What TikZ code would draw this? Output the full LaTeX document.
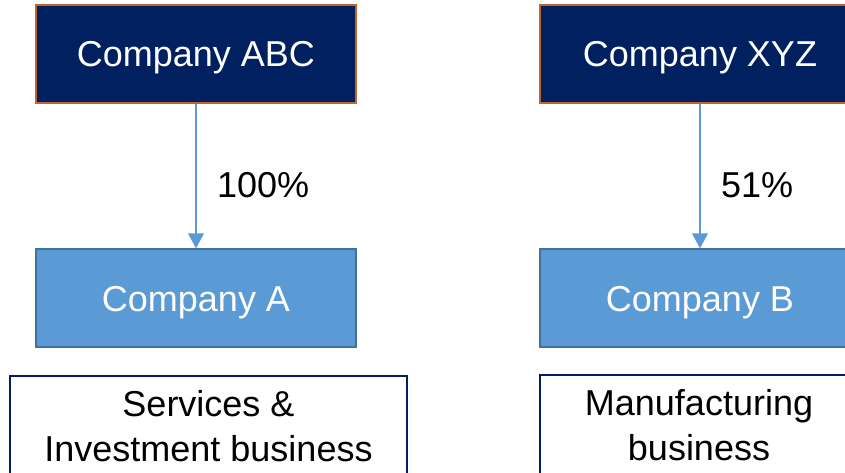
\documentclass[tikz,border=0pt]{standalone}
\usepackage{fontspec}
\setmainfont{Liberation Sans}
\usetikzlibrary{arrows.meta}

\begin{document}
\begin{tikzpicture}[
    x=1pt, y=1pt,
    >={Triangle[length=15pt,width=16pt]}, % 矢印のスタイル
    font=\fontsize{36}{45}\selectfont,
    parent/.style={draw={rgb,255:red,192;green,100;blue,45}, line width=2pt, fill={rgb,255:red,0;green,32;blue,96}, text=white, minimum width=320pt, minimum height=98pt, inner sep=0pt, text height=26pt, text depth=0pt},
    child/.style={draw={rgb,255:red,65;green,113;blue,156}, line width=1.5pt, fill={rgb,255:red,91;green,155;blue,213}, text=white, minimum width=320pt, minimum height=98pt, inner sep=0pt, text height=26pt, text depth=0pt},
    biz/.style={draw={rgb,255:red,0;green,32;blue,96}, line width=2pt, fill=white, align=center, anchor=north, minimum height=100pt, inner sep=0pt},
    link/.style={->, line width=1.5pt, draw={rgb,255:red,91;green,155;blue,213}},
    ]

    \useasboundingbox (0,0) rectangle (845,472);
    \clip (0,0) rectangle (845,472);

    % --- 親会社 ---
    \node[parent] (abc) at (196,418) {Company ABC};
    \node[parent] (xyz) at (700,418) {Company XYZ};

    % --- 子会社 ---
    \node[child] (compA) at (196,174) {Company A};
    \node[child] (compB) at (700,174) {Company B};

    % --- 事業内容 ---
    \node[biz, minimum width=397pt] (bizA) at (208.5,97) {Services \&\\Investment business};
    \node[biz, minimum width=318pt] (bizB) at (699,98) {Manufacturing\\business};

    % --- 出資比率 ---
    \draw[link] (abc) -- (compA) node[midway, right=17pt, yshift=-9pt] {100\%};
    \draw[link] (xyz) -- (compB) node[midway, right=17pt, yshift=-9pt] {51\%};

\end{tikzpicture}
\end{document}
